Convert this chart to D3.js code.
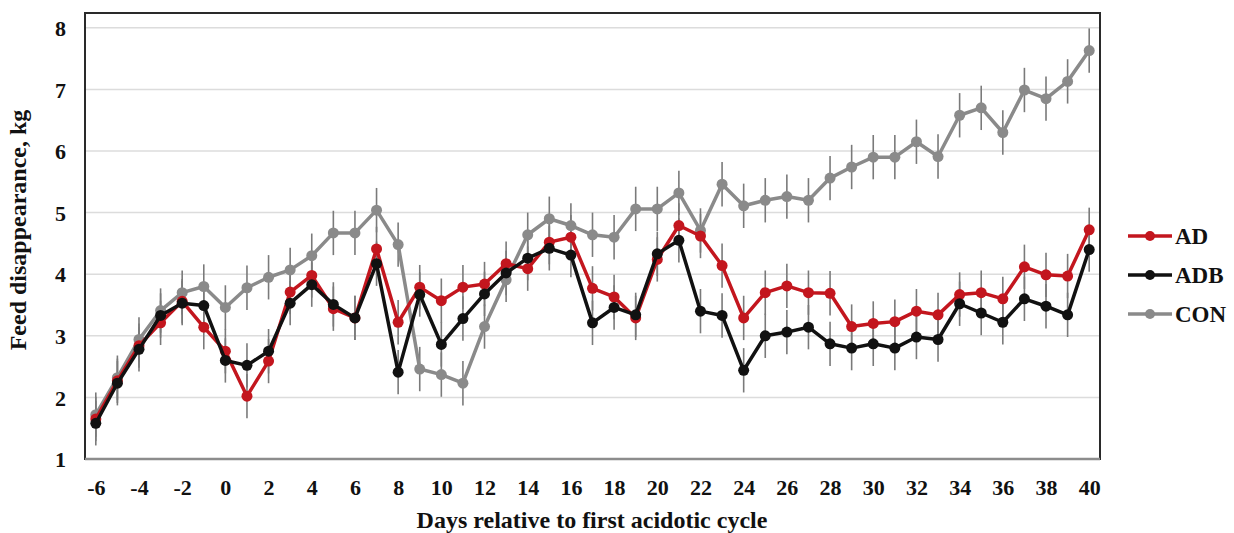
<!DOCTYPE html>
<html>
<head>
<meta charset="utf-8">
<script src="https://cdn.jsdelivr.net/npm/d3@7"></script>
<style>
  body { margin: 0; background: #fff; }
</style>
</head>
<body>
<div id="chart"></div>
<script>
const days = d3.range(-6, 41);
const xTicks = d3.range(-6, 41, 2);
const yTicks = [1, 2, 3, 4, 5, 6, 7, 8];

const adValues = [1.65, 2.27, 2.84, 3.21, 3.56, 3.14, 2.75, 2.02, 2.59, 3.71, 3.98, 3.44, 3.29, 4.41, 3.22, 3.79, 3.57, 3.79, 3.84, 4.17, 4.09, 4.52, 4.60, 3.77, 3.63, 3.29, 4.24, 4.79, 4.62, 4.14, 3.29, 3.70, 3.81, 3.70, 3.69, 3.15, 3.20, 3.23, 3.40, 3.34, 3.67, 3.70, 3.60, 4.12, 3.99, 3.97, 4.72];
const adbValues = [1.58, 2.23, 2.78, 3.33, 3.53, 3.49, 2.60, 2.52, 2.75, 3.53, 3.83, 3.51, 3.29, 4.17, 2.41, 3.67, 2.86, 3.28, 3.68, 4.02, 4.26, 4.42, 4.31, 3.21, 3.46, 3.34, 4.33, 4.55, 3.40, 3.33, 2.44, 3.00, 3.06, 3.14, 2.87, 2.80, 2.87, 2.80, 2.98, 2.94, 3.52, 3.37, 3.22, 3.60, 3.48, 3.34, 4.40];
const conValues = [1.72, 2.32, 2.94, 3.41, 3.70, 3.80, 3.46, 3.78, 3.95, 4.07, 4.30, 4.67, 4.67, 5.04, 4.48, 2.46, 2.37, 2.23, 3.15, 3.91, 4.64, 4.90, 4.79, 4.64, 4.60, 5.06, 5.06, 5.32, 4.71, 5.46, 5.11, 5.20, 5.26, 5.20, 5.56, 5.74, 5.90, 5.90, 6.15, 5.91, 6.58, 6.70, 6.30, 6.99, 6.85, 7.13, 7.63];
const seriesNames = ['AD', 'ADB', 'CON'];
const seriesColors = ['#c3161e', '#111111', '#8a8a8a'];
const sem = [0.36, 0.36, 0.36];

const width = 1234, height = 533;
const plot = { left: 85, right: 1100, top: 13, bottom: 459 };
const font = '"Liberation Serif", "Times New Roman", serif';

const svg = d3.select('#chart').append('svg')
    .attr('width', width)
    .attr('height', height)
    .attr('font-family', font)
    .attr('font-weight', 'bold');

const x = d3.scaleLinear().domain([-6.5, 40.5]).range([plot.left, plot.right]);
const y = d3.scaleLinear().domain([1, 8.24]).range([plot.bottom, plot.top]);

// gridlines
svg.append('g')
    .selectAll('line')
    .data(yTicks.slice(1))
    .enter()
    .append('line')
    .attr('x1', plot.left).attr('x2', plot.right)
    .attr('y1', d => y(d)).attr('y2', d => y(d))
    .style('stroke', '#dcdcdc')
    .style('stroke-width', 1.5);

// y axis
const yAxis = svg.append('g')
    .attr('transform', `translate(${plot.left},0)`)
    .call(d3.axisLeft(y).tickValues(yTicks).tickSize(0).tickPadding(19));
yAxis.select('.domain').remove();
yAxis.attr('font-family', font).attr('font-size', 22);
yAxis.selectAll('text').style('fill', '#111').attr('dy', '0.35em');

// x axis
const xAxis = svg.append('g')
    .attr('transform', `translate(0,${plot.bottom})`)
    .call(d3.axisBottom(x).tickValues(xTicks).tickSize(0).tickPadding(20)
        .tickFormat(d => String(d)));
xAxis.select('.domain').remove();
xAxis.attr('font-family', font).attr('font-size', 22);
xAxis.selectAll('text').style('fill', '#111');

// frame
svg.append('rect')
    .attr('x', plot.left).attr('y', plot.top)
    .attr('width', plot.right - plot.left)
    .attr('height', plot.bottom - plot.top)
    .style('fill', 'none')
    .style('stroke', '#2a2a2a')
    .style('stroke-width', 2);
svg.append('line')
    .attr('x1', plot.left).attr('x2', plot.right)
    .attr('y1', plot.bottom).attr('y2', plot.bottom)
    .style('stroke', '#8c8c8c')
    .style('stroke-width', 2.5);

const allSeries = [adValues, adbValues, conValues].map((vals, i) => ({
    name: seriesNames[i],
    color: seriesColors[i],
    sem: sem[i],
    points: vals.map((v, j) => ({ day: days[j], value: v }))
}));

// error bars
allSeries.forEach(s => {
    svg.append('g')
        .selectAll('line')
        .data(s.points)
        .enter()
        .append('line')
        .attr('x1', d => x(d.day)).attr('x2', d => x(d.day))
        .attr('y1', d => y(d.value - s.sem)).attr('y2', d => y(d.value + s.sem))
        .style('stroke', '#7a7a7a')
        .style('stroke-width', 1.6);
});

const line = d3.line().x(d => x(d.day)).y(d => y(d.value));

// draw order: CON, AD, ADB
[allSeries[2], allSeries[0], allSeries[1]].forEach(s => {
    const g = svg.append('g');
    g.append('path')
        .datum(s.points)
        .attr('d', line)
        .style('fill', 'none')
        .style('stroke', s.color)
        .style('stroke-width', 3.5)
        .style('stroke-linejoin', 'round');
    g.selectAll('circle')
        .data(s.points)
        .enter()
        .append('circle')
        .attr('cx', d => x(d.day))
        .attr('cy', d => y(d.value))
        .attr('r', 5.5)
        .style('fill', s.color);
});

// axis titles
svg.append('text')
    .attr('x', 592).attr('y', 528)
    .attr('text-anchor', 'middle')
    .attr('font-size', 24)
    .style('fill', '#111')
    .text('Days relative to first acidotic cycle');
svg.append('text')
    .attr('transform', 'translate(26,230) rotate(-90)')
    .attr('text-anchor', 'middle')
    .attr('font-size', 24)
    .style('fill', '#111')
    .text('Feed disappearance, kg');

// legend
const legend = svg.append('g')
    .selectAll('g')
    .data(allSeries)
    .enter()
    .append('g')
    .attr('transform', (d, i) => `translate(1128,${236 + i * 39})`);
legend.append('line')
    .attr('x1', 0).attr('x2', 44)
    .style('stroke', d => d.color)
    .style('stroke-width', 3.5);
legend.append('circle')
    .attr('cx', 22).attr('r', 5)
    .style('fill', d => d.color);
legend.append('text')
    .attr('x', 47).attr('dy', '0.35em')
    .attr('font-size', 23)
    .style('fill', '#111')
    .text(d => d.name);
</script>
</body>
</html>
